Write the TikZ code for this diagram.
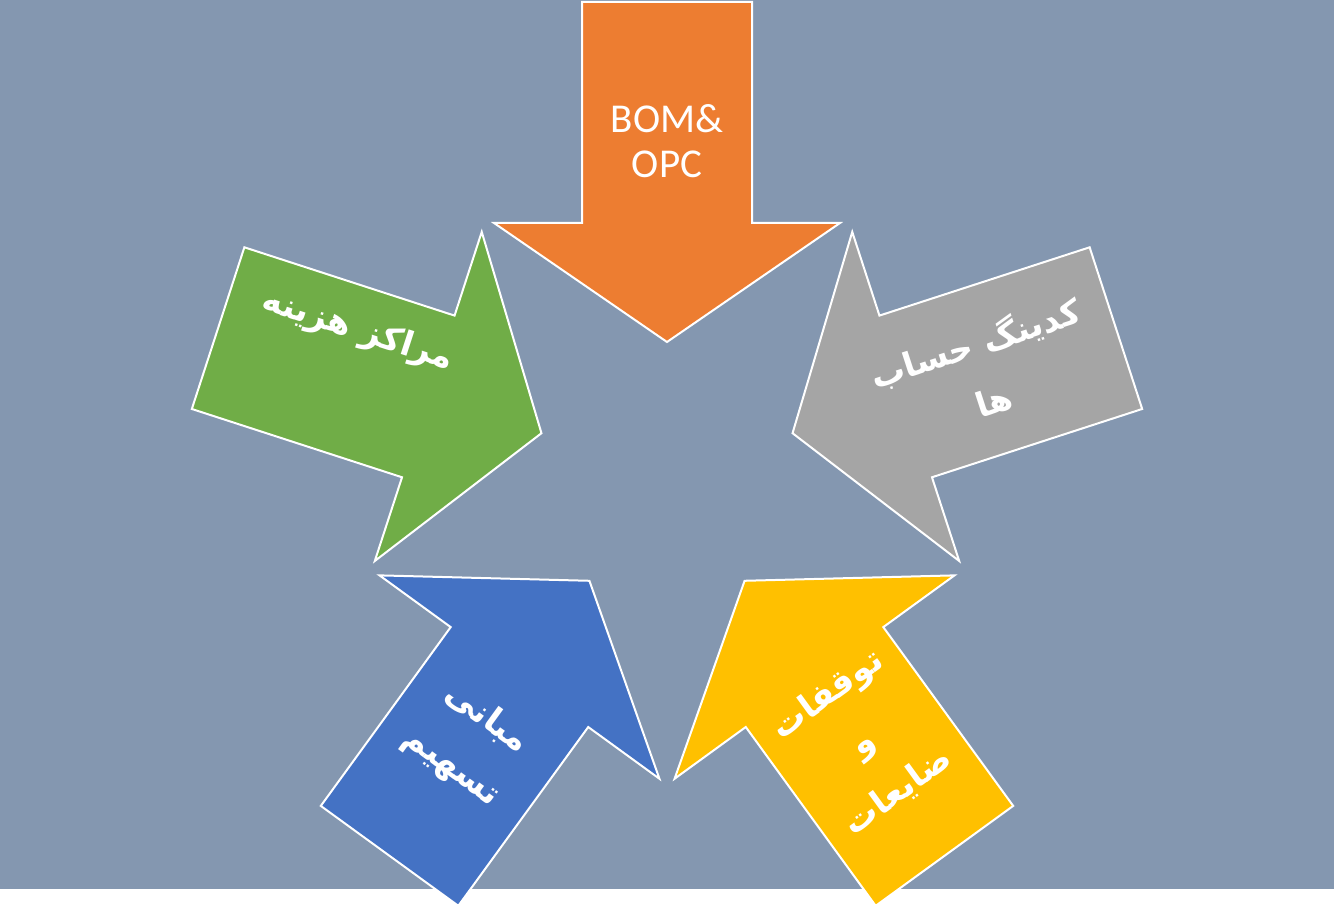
\documentclass[tikz,border=0pt]{standalone}
\usepackage{fontspec}
\setmainfont{Carlito}
\newfontfamily\farsi[Script=Arabic]{DejaVu Sans}
\TeXXeTstate=1
\usepackage{xcolor}
\definecolor{slate}{HTML}{8497B0}
\definecolor{bomfill}{HTML}{ED7D31}
\definecolor{costfill}{HTML}{70AD47}
\definecolor{codefill}{HTML}{A5A5A5}
\definecolor{basefill}{HTML}{4472C4}
\definecolor{lossfill}{HTML}{FFC000}
\usepackage{tikz}

% one inward arrow, tip 132 above the centre, drawn in pixels
\newcommand{\inarrow}{(0,-132) -- (173,-251) -- (85,-251) -- (85,-472)
  -- (-85,-472) -- (-85,-251) -- (-173,-251) -- cycle}

\begin{document}
\begin{tikzpicture}[
  x=1pt, y=-1pt,
  every node/.style={align=center, text=white},
  pentarrow/.style={draw=white, line width=2pt, line join=miter, shift={(centre)}},
  latinlabel/.style={font=\fontsize{41}{45}\selectfont},
  farsilabel/.style={font=\farsi\bfseries\fontsize{34}{60}\selectfont}
]
  \useasboundingbox (0,0) rectangle (1334,909);
  \fill[slate] (0,0) rectangle (1334,889);
  \coordinate (centre) at (667,474);

  \draw[pentarrow, fill=bomfill] \inarrow;
  \draw[pentarrow, fill=costfill, rotate=72] \inarrow;
  \draw[pentarrow, fill=codefill, rotate=-72] \inarrow;
  \draw[pentarrow, fill=basefill, rotate=144] \inarrow;
  \draw[pentarrow, fill=lossfill, rotate=-144] \inarrow;

  \node[latinlabel] (bom) at (667,141) {BOM\&\\OPC};
  \node[farsilabel, rotate=-18] (costcentres) at (358,331)
    {\beginR مراکز هزینه\endR};
  \node[farsilabel, rotate=18] (coding) at (984,370)
    {\beginR کدینگ حساب\endR\\\beginR ها\endR};
  \node[farsilabel, rotate=-36] (bases) at (469,743)
    {\beginR مبانی\endR\\\beginR تسهیم\endR};
  \node[farsilabel, rotate=36] (losses) at (863,743)
    {\beginR توقفات\endR\\\beginR و\endR\\\beginR ضایعات\endR};
\end{tikzpicture}
\end{document}
